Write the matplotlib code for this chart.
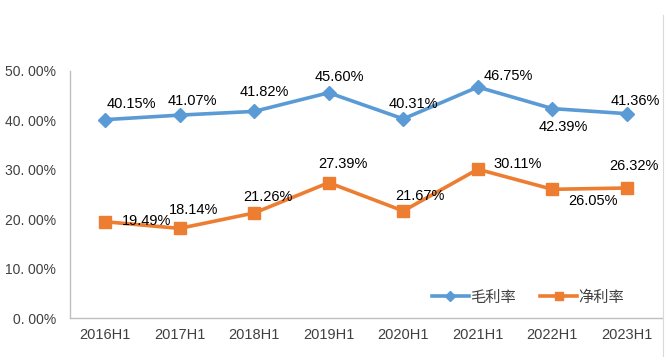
import matplotlib
matplotlib.use("Agg")
import matplotlib.pyplot as plt
from matplotlib.lines import Line2D

categories = ["2016H1", "2017H1", "2018H1", "2019H1", "2020H1", "2021H1", "2022H1", "2023H1"]
gross_margin = [40.15, 41.07, 41.82, 45.60, 40.31, 46.75, 42.39, 41.36]
net_margin = [19.49, 18.14, 21.26, 27.39, 21.67, 30.11, 26.05, 26.32]
series_names = ["毛利率", "净利率"]
y_ticks = [0, 10, 20, 30, 40, 50]
y_tick_labels = ["0. 00%", "10. 00%", "20. 00%", "30. 00%", "40. 00%", "50. 00%"]

gross_offsets = [(26, 16), (13, 14), (10, 19), (11, 16), (10, 15), (30, 11), (11, -18), (8, 13)]
net_offsets = [(42, 1), (14, 18), (14, 16), (14, 19), (17, 15), (40, 5), (41, -12), (7, 22)]

plt.rcParams['font.family'] = ['Liberation Sans', 'Noto Sans CJK SC', 'DejaVu Sans']

BLUE = "#5B9BD5"
ORANGE = "#ED7D31"
TXT = "#404040"

fig = plt.figure(figsize=(6.65, 3.57), dpi=100)
ax = fig.add_axes([70/665, 1-318/357, 592/665, (318-71)/357])

x = list(range(len(categories)))
ax.plot(x, gross_margin, color=BLUE, lw=2.6, marker="D", ms=7.5, zorder=3)
ax.plot(x, net_margin, color=ORANGE, lw=2.6, marker="s", ms=8, zorder=3)

for xi, v, off in zip(x, gross_margin, gross_offsets):
    ax.annotate(f"{v:.2f}%", (xi, v), xytext=off, textcoords="offset pixels",
                ha="center", va="center", fontsize=10.5, color="black")
for xi, v, off in zip(x, net_margin, net_offsets):
    ax.annotate(f"{v:.2f}%", (xi, v), xytext=off, textcoords="offset pixels",
                ha="center", va="center", fontsize=10.5, color="black")

ax.set_xlim(-0.47, len(categories) - 0.53)
ax.set_ylim(0, 50)
ax.set_yticks(y_ticks)
ax.set_yticklabels(y_tick_labels)
ax.set_xticks(x)
ax.set_xticklabels(categories)
ax.tick_params(axis="both", length=0, colors=TXT)
ax.tick_params(axis="y", pad=10, labelsize=10)
ax.tick_params(axis="x", pad=7, labelsize=10.5)
for s in ["top", "right"]:
    ax.spines[s].set_visible(False)
for s in ["left", "bottom"]:
    ax.spines[s].set_color("#bfbfbf")
    ax.spines[s].set_linewidth(1)

handles = [Line2D([], [], color=BLUE, lw=2.6, marker="D", ms=5),
           Line2D([], [], color=ORANGE, lw=2.6, marker="s", ms=6)]
leg = ax.legend(handles, series_names, loc="center", bbox_to_anchor=(528/665, 1-297/357),
                bbox_transform=fig.transFigure,
                ncol=2, frameon=False, fontsize=11, handlelength=2.4, columnspacing=1.6,
                handletextpad=0.1, borderpad=0)
for t in leg.get_texts():
    t.set_color(TXT)
    t.set_family(['Noto Sans CJK SC', 'DejaVu Sans'])

fig.add_artist(Line2D([663/665, 663/665], [0, 1-15/357], transform=fig.transFigure,
                      color="#d9d9d9", lw=0.8))

fig.savefig("out.png", dpi=100)
